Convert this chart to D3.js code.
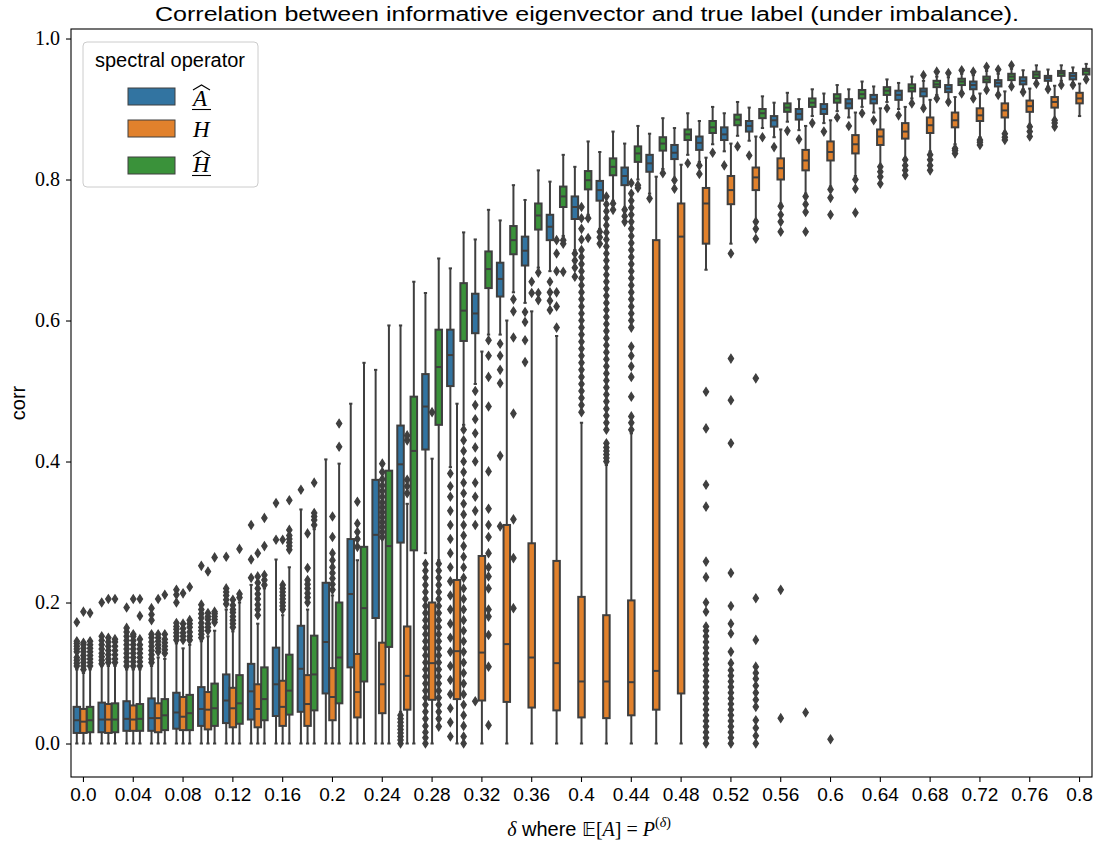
<!DOCTYPE html>
<html>
<head>
<meta charset="utf-8">
<script src="https://cdn.jsdelivr.net/npm/d3@7"></script>
<style>
  body { margin: 0; background: #fff; }
  svg { display: block; }
</style>
</head>
<body>
<svg id="chart" width="1102" height="847"></svg>
<script>
// delta values on the x axis (one box group each)
const deltas = [0, 0.02, 0.04, 0.06, 0.08, 0.1, 0.12, 0.14, 0.16, 0.18, 0.2, 0.22, 0.24, 0.26, 0.28, 0.3, 0.32, 0.34, 0.36, 0.38,
  0.4, 0.42, 0.44, 0.46, 0.48, 0.5, 0.52, 0.54, 0.56, 0.58, 0.6, 0.62, 0.64, 0.66, 0.68, 0.7, 0.72, 0.74, 0.76, 0.78, 0.8];
// only every second delta gets a tick
const deltaTickLabels = ["0.0", "0.04", "0.08", "0.12", "0.16", "0.2", "0.24", "0.28", "0.32", "0.36", "0.4",
  "0.44", "0.48", "0.52", "0.56", "0.6", "0.64", "0.68", "0.72", "0.76", "0.8"];
const yTicks = [0, 0.2, 0.4, 0.6, 0.8, 1.0];

const operators = ["Ahat", "H", "Hhat"];

// ---- A hat (blue) : whisker low, q1, median, q3, whisker high
const aLo = [0, 0, 0, 0, 0, 0, 0, 0, 0, 0, 0, 0, 0, .045, .27, .392, .51, .58, .625, .67, .70, .73, .76, .78, .80, .825, .84, .855, .86, .87, .88, .888, .895, .90, .905, .912, .918, .922, .928, .932, .937];
const aQ1 = [.015, .016, .018, .018, .021, .025, .029, .034, .039, .045, .071, .108, .178, .285, .417, .507, .582, .634, .678, .714, .744, .770, .792, .811, .829, .842, .856, .868, .875, .885, .893, .901, .908, .913, .918, .924, .928, .932, .935, .940, .942];
const aMed = [.033, .034, .035, .036, .044, .049, .061, .074, .084, .106, .144, .212, .296, .396, .478, .551, .610, .659, .699, .733, .761, .785, .805, .823, .838, .852, .864, .876, .884, .893, .900, .908, .914, .920, .925, .929, .934, .937, .940, .944, .947];
const aQ3 = [.052, .058, .060, .064, .072, .080, .098, .113, .136, .167, .228, .290, .374, .451, .524, .587, .638, .682, .719, .750, .776, .798, .817, .835, .849, .861, .874, .883, .890, .900, .907, .914, .920, .926, .929, .934, .939, .941, .945, .947, .951];
const aHi = [.105, .11, .105, .11, .142, .145, .19, .225, .261, .332, .403, .482, .530, .593, .639, .674, .715, .742, .771, .797, .818, .839, .851, .865, .873, .883, .894, .902, .909, .914, .922, .928, .932, .937, .940, .945, .948, .950, .955, .956, .959];
const aOut = [
  [.11, .114, .118, .122, .13, .134, .138, .142, .145, .172],
  [.113, .118, .123, .128, .134, .14, .146, .152, .2],
  [.11, .116, .122, .128, .134, .14, .146, .152, .158, .164, .193],
  [.115, .12, .126, .132, .138, .144, .15, .155, .175, .183, .192],
  [.147, .152, .157, .162, .166, .171, .2, .211, .218],
  [.15, .155, .16, .165, .171, .178, .184, .19, .197, .252],
  [.198, .204, .21, .215, .22, .265],
  [.235, .261, .31],
  [.289, .341],
  [.36],
  [], [], [],
  [0, .005, .01, .015, .02, .025, .03, .035, .04],
  [0, .008, .016, .025, .035, .045, .055, .065, .075, .085, .095, .105, .115, .125, .135, .145, .155, .165, .175, .185, .195, .205, .215, .225, .235, .245, .255],
  [.01, .03, .05, .07, .09, .11, .13, .15, .17, .19, .21, .23, .25, .27, .29, .31, .33, .35, .365, .383],
  [.06, .31, .33, .35, .37, .40, .42, .44, .46, .48, .50],
  [.308, .408, .511, .53, .55, .567],
  [.541, .572, .598, .612],
  [.615, .628, .64, .655],
  [.662, .675, .685, .695],
  [.709, .718, .726],
  [.74, .748, .757],
  [.773],
  [.787, .799],
  [.808, .82],
  [.82], [.834], [.846], [.857], [.868], [.876], [.884], [.891],
  [.901, .948], [.91, .951], [.915, .953], [.92, .956], [.924], [.928], [.934]
];

// ---- H (orange)
const hLo = [0, 0, 0, 0, 0, 0, 0, 0, 0, 0, 0, 0, 0, 0, 0, 0, 0, 0, 0, 0, 0, 0, 0, 0, 0, .672, .709, .742, .766, .780, .790, .805, .815, .83, .84, .85, .86, .868, .877, .886, .890];
const hQ1 = [.015, .015, .018, .016, .019, .020, .023, .023, .025, .025, .033, .037, .043, .048, .062, .063, .061, .059, .051, .047, .037, .036, .040, .048, .071, .709, .765, .785, .800, .813, .827, .837, .849, .858, .866, .874, .883, .888, .896, .902, .908];
const hMed = [.031, .034, .034, .036, .038, .048, .050, .049, .052, .056, .066, .073, .084, .096, .114, .131, .129, .141, .122, .114, .088, .088, .087, .103, .719, .766, .785, .803, .816, .827, .839, .850, .861, .868, .877, .884, .891, .898, .904, .910, .915];
const hQ3 = [.049, .056, .054, .057, .066, .073, .079, .084, .089, .097, .107, .127, .143, .166, .200, .232, .266, .310, .284, .259, .208, .182, .203, .714, .766, .788, .805, .817, .830, .842, .854, .863, .871, .880, .888, .895, .901, .908, .912, .917, .923];
const hHi = [.10, .11, .105, .122, .135, .152, .159, .17, .182, .19, .21, .26, .29, .34, .404, .482, .556, .600, .613, .578, .455, .395, .44, .804, .821, .831, .851, .861, .871, .876, .884, .895, .901, .903, .913, .917, .922, .925, .929, .933, .936];
const hOut = [
  [.105, .11, .115, .12, .125, .13, .135, .14, .143, .187],
  [.115, .12, .126, .132, .138, .144, .15, .205],
  [.11, .116, .122, .128, .134, .14, .146, .152, .155, .205],
  [.13, .135, .14, .145, .15, .155, .205],
  [.147, .152, .157, .163, .17, .213],
  [.16, .165, .17, .176, .18, .185, .244],
  [.165, .17, .175, .18, .186, .19, .196, .204],
  [.182, .19, .197, .205, .212, .22, .228, .237, .27],
  [.19, .195, .2, .205, .21, .215, .22, .225, .289],
  [.2, .207, .213, .22, .226, .232, .249, .298],
  [.218, .226, .234, .242, .25, .26, .27, .293, .322],
  [.279, .29, .3, .312, .343],
  [.293, .3, .307, .314, .321, .328, .335, .342, .35, .358, .366, .375, .385, .397],
  [.355, .365, .374, .43, .437],
  [.47],
  [], [], [],
  [.639, .655],
  [.59, .62, .64, .67, .695, .714],
  [.47, .48, .49, .5, .51, .52, .53, .54, .55, .56, .57, .58, .59, .6, .61, .62, .63, .64, .65, .66, .67, .68, .69, .70, .715, .73, .745, .761],
  [.40, .405, .41, .415, .42, .426, .445, .455, .465, .475, .485, .495, .505, .515, .525, .535, .545, .555, .565, .575, .585, .595, .605, .615, .625, .635, .645, .655, .665, .675, .685, .695, .705, .715, .725, .735, .745, .755, .765, .776],
  [.445, .455, .464, .492, .52, .535, .55, .563, .59, .60, .61, .62, .63, .64, .65, .66, .67, .68, .69, .70, .71, .72, .73, .74, .75, .76, .77, .78, .795],
  [], [],
  [0, .008, .016, .024, .032, .04, .048, .056, .064, .072, .08, .088, .096, .104, .112, .12, .128, .136, .144, .152, .16, .166, .187, .2, .236, .258, .336, .367, .447, .499],
  [0, .008, .016, .024, .032, .04, .048, .056, .064, .072, .08, .088, .096, .104, .114, .13, .156, .17, .195, .242, .426, .487, .546, .695],
  [0, .011, .022, .033, .052, .062, .072, .082, .092, .1, .109, .147, .206, .518, .716, .73, .74],
  [.036, .218, .726, .74, .75, .762],
  [.044, .726, .754, .765, .776],
  [.006, .75, .774, .786],
  [.753, .787, .80],
  [.794, .804, .811, .818],
  [.806, .813, .82, .828],
  [.813, .82, .828, .835],
  [.837, .841, .844],
  [.849, .853, .856],
  [.856, .86, .865],
  [.861, .868, .875],
  [.875, .88, .884],
  []
];

// ---- H hat (green)
const gLo = [0, 0, 0, 0, 0, 0, 0, 0, 0, 0, 0, 0, 0, 0, .26, .452, .58, .64, .675, .72, .75, .77, .80, .815, .835, .85, .862, .873, .882, .89, .897, .903, .91, .915, .92, .924, .93, .934, .938, .94, .945];
const gQ1 = [.016, .016, .018, .019, .019, .025, .028, .033, .041, .047, .057, .088, .137, .274, .452, .571, .646, .694, .729, .761, .786, .806, .825, .841, .856, .866, .877, .887, .896, .903, .909, .915, .920, .925, .931, .934, .938, .941, .944, .947, .949];
const gMed = [.033, .034, .035, .040, .043, .050, .057, .063, .075, .098, .122, .192, .280, .415, .534, .614, .673, .714, .749, .776, .799, .818, .837, .851, .864, .874, .885, .894, .902, .909, .915, .921, .926, .930, .935, .939, .942, .946, .949, .951, .954];
const gQ3 = [.052, .057, .056, .063, .069, .085, .097, .108, .126, .153, .200, .279, .387, .492, .587, .653, .698, .734, .766, .790, .812, .830, .847, .860, .871, .883, .892, .900, .908, .915, .921, .927, .931, .935, .940, .943, .946, .950, .953, .954, .957];
const gHi = [.105, .11, .105, .12, .14, .16, .2, .22, .25, .304, .397, .540, .593, .655, .688, .725, .757, .792, .813, .835, .854, .868, .876, .887, .894, .903, .910, .918, .923, .928, .934, .939, .942, .946, .946, .950, .954, .957, .962, .962, .964];
const gOut = [
  [.11, .115, .12, .125, .13, .135, .14, .145, .185],
  [.115, .12, .126, .132, .138, .144, .148, .205],
  [.11, .116, .122, .128, .134, .14, .148, .181, .205],
  [.128, .133, .138, .143, .148, .155, .211],
  [.147, .152, .158, .165, .17, .175, .222],
  [.172, .176, .18, .184, .187, .264],
  [.207, .212, .276],
  [.225, .232, .239, .28, .32],
  [.275, .28, .285, .29, .295, .303, .345],
  [.31, .317, .322, .327, .37],
  [.421, .454],
  [], [], [],
  [.024, .035, .045, .055, .065, .075, .085, .095, .105, .115, .125, .135, .145, .155, .165, .175, .185, .195, .205, .215, .225, .235, .245, .255],
  [0, .01, .025, .04, .055, .07, .085, .1, .115, .13, .145, .16, .175, .19, .205, .22, .235, .25, .265, .28, .295, .31, .325, .34, .355, .37, .385, .4, .415, .43, .445],
  [.026, .109, .154, .18, .19, .22, .237, .25, .27, .293, .31, .333, .386, .478, .52, .55, .572],
  [.192, .263, .318, .468, .576, .613, .63],
  [.629, .639, .668],
  [.669, .709, .714],
  [.717, .745],
  [.757, .766],
  [.788, .792],
  [.809], [.823], [.838], [.847], [.86], [.869], [.88], [.888], [.894], [.901], [.908],
  [.915, .953], [.922, .955], [.927, .96], [.932, .962], [.936], [.934], [.942]
];

const series = [
  { op: "Ahat", color: "#3274a1", lo: aLo, q1: aQ1, med: aMed, q3: aQ3, hi: aHi, out: aOut },
  { op: "H",    color: "#e1812c", lo: hLo, q1: hQ1, med: hMed, q3: hQ3, hi: hHi, out: hOut },
  { op: "Hhat", color: "#3a923a", lo: gLo, q1: gQ1, med: gMed, q3: gQ3, hi: gHi, out: gOut }
];

const gray = "#3f3f3f";
const mLeft = 71, mRight = 1092, mTop = 29, mBottom = 777;
const svg = d3.select("#chart");

const x = d3.scaleBand().domain(deltas).range([mLeft, mRight]);
const bw = x.bandwidth();
const hue = d3.scaleBand().domain(operators).range([-0.4 * bw, 0.4 * bw]);
const boxW = hue.bandwidth() * 0.98;
const y = d3.scaleLinear().domain([-0.0475, 1.0135]).range([mBottom, mTop]);

// one record per box
const boxes = [];
deltas.forEach((d, i) => {
  series.forEach(s => {
    boxes.push({ d: d, op: s.op, color: s.color, lo: s.lo[i], q1: s.q1[i], med: s.med[i], q3: s.q3[i], hi: s.hi[i], out: s.out[i] });
  });
});

const diamond = "M0,-4.2L2.7,0L0,4.2L-2.7,0Z";
const lw = 2;

const g = svg.append("g").selectAll("g.box")
  .data(boxes).enter().append("g")
  .attr("class", "box")
  .attr("transform", b => "translate(" + (x(b.d) + bw / 2 + hue(b.op) + hue.bandwidth() / 2) + ",0)");

// whiskers
g.append("line").attr("x1", 0).attr("x2", 0)
  .attr("y1", b => y(b.q3)).attr("y2", b => y(b.hi))
  .attr("stroke", gray).attr("stroke-width", lw);
g.append("line").attr("x1", 0).attr("x2", 0)
  .attr("y1", b => y(b.q1)).attr("y2", b => y(b.lo))
  .attr("stroke", gray).attr("stroke-width", lw);
// caps
g.append("line").attr("x1", -boxW / 4).attr("x2", boxW / 4)
  .attr("y1", b => y(b.hi)).attr("y2", b => y(b.hi))
  .attr("stroke", gray).attr("stroke-width", lw);
g.append("line").attr("x1", -boxW / 4).attr("x2", boxW / 4)
  .attr("y1", b => y(b.lo)).attr("y2", b => y(b.lo))
  .attr("stroke", gray).attr("stroke-width", lw);
// box
g.append("rect")
  .attr("x", -boxW / 2).attr("width", boxW)
  .attr("y", b => y(b.q3)).attr("height", b => Math.max(0.5, y(b.q1) - y(b.q3)))
  .attr("fill", b => b.color).attr("stroke", gray).attr("stroke-width", lw);
// median
g.append("line").attr("x1", -boxW / 2).attr("x2", boxW / 2)
  .attr("y1", b => y(b.med)).attr("y2", b => y(b.med))
  .attr("stroke", gray).attr("stroke-width", lw);
// fliers
g.selectAll("path.flier").data(b => b.out).enter().append("path")
  .attr("class", "flier")
  .attr("d", diamond)
  .attr("transform", v => "translate(0," + y(v) + ")")
  .attr("fill", gray).attr("stroke", gray).attr("stroke-width", 1.2);

// axes
const tickDeltas = deltas.filter((d, i) => i % 2 === 0);
const xAxis = svg.append("g")
  .attr("transform", "translate(0," + mBottom + ")")
  .call(d3.axisBottom(x).tickValues(tickDeltas).tickSize(5).tickPadding(6)
    .tickFormat((d, i) => deltaTickLabels[i]));
xAxis.select(".domain").remove();
xAxis.selectAll("text").attr("font-family", "Liberation Sans, Arial, sans-serif").attr("font-size", 19).attr("fill", "#000");
xAxis.selectAll("line").attr("stroke", "#000").attr("stroke-width", 1.1);

const yAxis = svg.append("g")
  .attr("transform", "translate(" + mLeft + ",0)")
  .call(d3.axisLeft(y).tickValues(yTicks).tickSize(5).tickPadding(6).tickFormat(d3.format(".1f")));
yAxis.select(".domain").remove();
yAxis.selectAll("text").attr("font-family", "Liberation Serif, DejaVu Serif, serif").attr("font-size", 20).attr("fill", "#000");
yAxis.selectAll("line").attr("stroke", "#000").attr("stroke-width", 1.1);

// frame
svg.append("rect").attr("x", mLeft).attr("y", mTop).attr("width", mRight - mLeft).attr("height", mBottom - mTop)
  .attr("fill", "none").attr("stroke", "#000").attr("stroke-width", 1.1);

// title
svg.append("text").attr("x", 155).attr("y", 21)
  .attr("font-family", "Liberation Sans, Arial, sans-serif").attr("font-size", 20)
  .attr("textLength", 864).attr("lengthAdjust", "spacingAndGlyphs")
  .text("Correlation between informative eigenvector and true label (under imbalance).");

// y label
svg.append("text").attr("transform", "translate(25,403) rotate(-90)")
  .attr("text-anchor", "middle")
  .attr("font-family", "Liberation Sans, Arial, sans-serif").attr("font-size", 20)
  .text("corr");

// x label
const xl = svg.append("text").attr("x", 589).attr("y", 836).attr("text-anchor", "middle")
  .attr("font-size", 20).attr("font-family", "Liberation Serif, DejaVu Serif, serif");
xl.append("tspan").attr("font-style", "italic").text("δ");
xl.append("tspan").attr("font-family", "Liberation Sans, Arial, sans-serif").text(" where ");
xl.append("tspan").attr("font-family", "DejaVu Sans, DejaVu Serif, sans-serif").attr("font-size", 19).text("𝔼");
xl.append("tspan").text("[");
xl.append("tspan").attr("font-style", "italic").text("A");
xl.append("tspan").text("] = ");
xl.append("tspan").attr("font-style", "italic").text("P");
xl.append("tspan").attr("font-size", 14).attr("dy", -9).text("(");
xl.append("tspan").attr("font-size", 14).attr("font-style", "italic").text("δ");
xl.append("tspan").attr("font-size", 14).text(")");

// legend
const leg = svg.append("g");
leg.append("rect").attr("x", 83).attr("y", 42).attr("width", 175).attr("height", 145)
  .attr("rx", 4).attr("fill", "#fff").attr("fill-opacity", 0.8)
  .attr("stroke", "#cccccc").attr("stroke-width", 1);
leg.append("text").attr("x", 170).attr("y", 67).attr("text-anchor", "middle")
  .attr("font-family", "Liberation Sans, Arial, sans-serif").attr("font-size", 20)
  .text("spectral operator");
const rowY = [88, 120, 157];
const baseY = [106, 137, 172];
const letters = ["A", "H", "H"];
const decorated = [true, false, true];
series.forEach((s, k) => {
  leg.append("rect").attr("x", 128).attr("y", rowY[k]).attr("width", 47).attr("height", 17)
    .attr("fill", s.color).attr("stroke", gray).attr("stroke-width", 1);
  leg.append("text").attr("x", 193).attr("y", baseY[k])
    .attr("font-family", "Liberation Serif, DejaVu Serif, serif").attr("font-style", "italic").attr("font-size", 23)
    .text(letters[k]);
  if (decorated[k]) {
    const hy = baseY[k] - 21;
    leg.append("path").attr("d", "M193," + (hy + 5) + "L201.5," + hy + "L210," + (hy + 5))
      .attr("fill", "none").attr("stroke", "#000").attr("stroke-width", 1.1);
    leg.append("line").attr("x1", 192).attr("x2", 211).attr("y1", baseY[k] + 3.5).attr("y2", baseY[k] + 3.5)
      .attr("stroke", "#000").attr("stroke-width", 1.1);
  }
});
</script>
</body>
</html>
